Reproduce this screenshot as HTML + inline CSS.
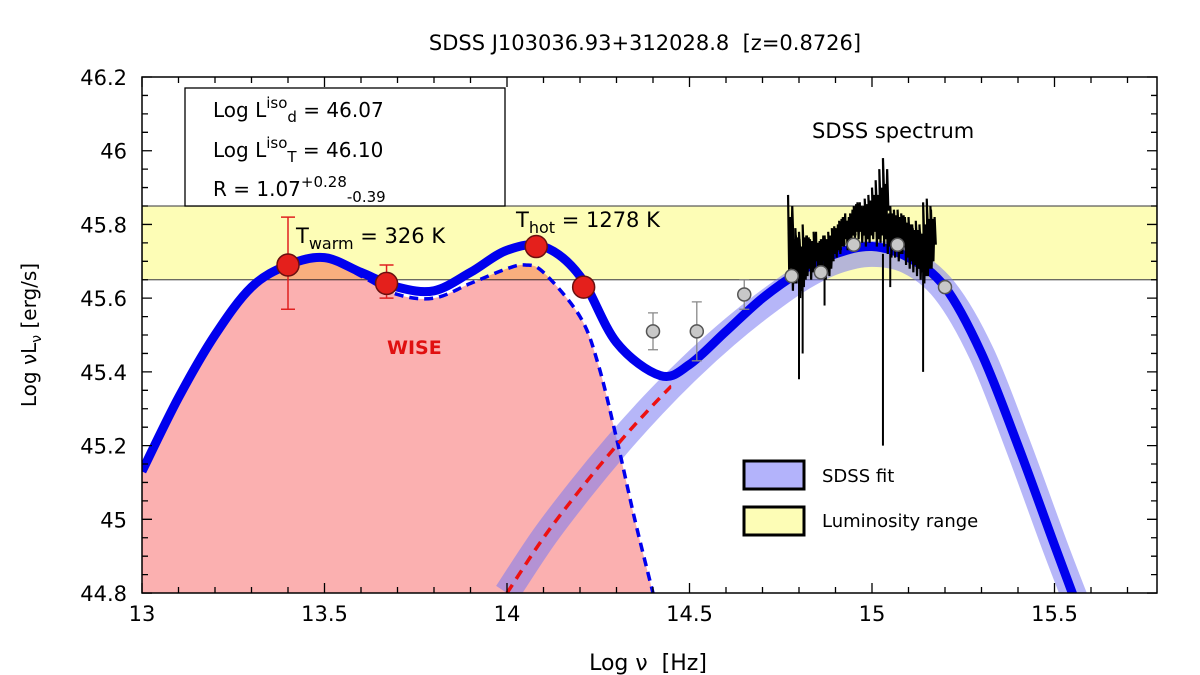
<!DOCTYPE html>
<html><head><meta charset="utf-8"><style>
body{margin:0;background:#fff;}
svg{display:block;font-family:"DejaVu Sans","Liberation Sans",sans-serif;}
</style></head><body>
<svg id="chart" width="1200" height="675" viewBox="0 0 1200 675">
<text x="645" y="50" font-size="21" text-anchor="middle" style="white-space:pre">SDSS J103036.93+312028.8  [z=0.8726]</text>
<g id="plot"></g>
</svg>
<script>
// ---- data ----
const totalNu=[13.0,13.1,13.2,13.3,13.4,13.5,13.6,13.7,13.8,13.9,14.0,14.1,14.2,14.3,14.42,14.5,14.6,14.7,14.8,14.9,15.0,15.1,15.2,15.3,15.4,15.5,15.56];
const totalL=[45.13,45.33,45.50,45.63,45.69,45.71,45.67,45.63,45.62,45.67,45.73,45.74,45.66,45.48,45.39,45.42,45.51,45.60,45.67,45.72,45.74,45.71,45.63,45.45,45.2,44.93,44.77];
const dustNu=[13.0,13.1,13.2,13.3,13.4,13.5,13.6,13.7,13.8,13.9,14.0,14.05,14.1,14.2,14.25,14.3,14.35,14.4];
const dustL=[45.13,45.33,45.50,45.63,45.69,45.71,45.66,45.61,45.60,45.64,45.68,45.69,45.67,45.55,45.42,45.22,45.0,44.8];
const diskNu=[14.0,14.1,14.2,14.3,14.4,14.5,14.6,14.7,14.8,14.9,15.0,15.1,15.2,15.3,15.4,15.5,15.57];
const diskL=[44.8,44.95,45.08,45.2,45.31,45.41,45.5,45.58,45.65,45.70,45.72,45.70,45.62,45.45,45.2,44.93,44.75];
const wiseNu=[13.4,13.67,14.08,14.21];
const wiseL=[45.69,45.64,45.74,45.63];
const wiseLo=[45.57,45.60,45.74,45.63];
const wiseHi=[45.82,45.69,45.74,45.63];
const photNu=[14.4,14.52,14.65,14.78,14.86,14.95,15.07,15.2];
const photL=[45.51,45.51,45.61,45.66,45.67,45.745,45.745,45.63];
const photLo=[45.46,45.43,45.57,45.66,45.67,45.745,45.745,45.63];
const photHi=[45.56,45.59,45.65,45.66,45.67,45.745,45.745,45.63];
const specNu=[14.77,14.78,14.79,14.80,14.81,14.82,14.83,14.84,14.85,14.86,14.87,14.88,14.89,14.90,14.91,14.92,14.93,14.94,14.95,14.96,14.97,14.98,14.99,15.00,15.01,15.02,15.03,15.04,15.05,15.06,15.07,15.08,15.09,15.10,15.11,15.12,15.13,15.14,15.15,15.16];
const specHi=[45.88,45.80,45.79,45.78,45.80,45.77,45.76,45.78,45.75,45.76,45.77,45.78,45.79,45.79,45.81,45.82,45.81,45.83,45.85,45.86,45.85,45.87,45.88,45.90,45.92,45.95,45.98,45.84,45.85,45.84,45.84,45.83,45.82,45.82,45.80,45.81,45.80,45.86,45.87,45.85];
const specLo=[45.66,45.62,45.64,45.60,45.63,45.66,45.65,45.68,45.66,45.68,45.65,45.66,45.70,45.71,45.72,45.74,45.73,45.75,45.76,45.76,45.75,45.74,45.75,45.76,45.74,45.75,45.74,45.72,45.71,45.71,45.70,45.72,45.69,45.68,45.67,45.66,45.65,45.64,45.66,45.68];
const spikeNu=[14.80,14.81,14.87,15.03,15.05,15.14];
const spikeL=[45.38,45.45,45.58,45.20,45.63,45.40];
const lumRange=[45.65,45.85];
const xTicks=[13,13.5,14,14.5,15,15.5];
const yTicks=[44.8,45,45.2,45.4,45.6,45.8,46,46.2];
const xTickLabels=["13","13.5","14","14.5","15","15.5"];
const yTickLabels=["44.8","45","45.2","45.4","45.6","45.8","46","46.2"];
// ---- scales ----
const X0=142,X1=1157,Y0=77,Y1=593;
const xs=v=>X0+(v-13)*365;
const ys=v=>Y0+(46.2-v)*368.6;
const NS='http://www.w3.org/2000/svg';
const plot=document.getElementById('plot');
function mk(tag,attrs,parent){const e=document.createElementNS(NS,tag);for(const k in attrs)e.setAttribute(k,attrs[k]);(parent||plot).appendChild(e);return e;}
function smooth(nu,L){const p=nu.map((n,i)=>[xs(n),ys(L[i])]);let d='M'+p[0][0]+','+p[0][1];
for(let i=0;i<p.length-1;i++){const a=p[i-1]||p[i],b=p[i],c=p[i+1],e=p[i+2]||c;
d+=' C'+(b[0]+(c[0]-a[0])/6)+','+(b[1]+(c[1]-a[1])/6)+' '+(c[0]-(e[0]-b[0])/6)+','+(c[1]-(e[1]-b[1])/6)+' '+c[0]+','+c[1];}return d;}
const defs=mk('defs',{});const cp=mk('clipPath',{id:'clip'},defs);mk('rect',{x:X0,y:Y0,width:X1-X0,height:Y1-Y0},cp);
const g=mk('g',{'clip-path':'url(#clip)'});
let e;
e=mk('rect',{x:X0,y:ys(lumRange[1]),width:X1-X0,height:ys(lumRange[0])-ys(lumRange[1]),fill:'#fdfdb6',stroke:'#555','stroke-width':1.2},g);

e=mk('path',{d:smooth(dustNu,dustL)+' L'+xs(dustNu[dustNu.length-1])+','+Y1+' L'+xs(dustNu[0])+','+Y1+' Z',fill:'#fbb0b0',style:'mix-blend-mode:multiply'},g);

e=mk('path',{d:smooth(diskNu,diskL),fill:'none',stroke:'#7a7af2','stroke-width':26,'stroke-opacity':0.55},g);

e=mk('path',{d:smooth(dustNu,dustL),fill:'none',stroke:'#0000ee','stroke-width':3.5,'stroke-dasharray':'9,6'},g);

e=mk('path',{d:smooth(totalNu,totalL),fill:'none',stroke:'#0000ee','stroke-width':9},g);

const cr=mk('clipPath',{id:'cr'},defs);mk('rect',{x:X0,y:ys(45.39)+6,width:xs(14.45)-X0,height:600},cr);
e=mk('path',{d:smooth(diskNu,diskL),fill:'none',stroke:'#ee1111','stroke-width':3.5,'stroke-dasharray':'10,7','clip-path':'url(#cr)'},g);

// spectrum as dense zigzag
let sp='';
specNu.forEach((n,i)=>{const x=xs(n);const m=(specHi[i]+specLo[i])/2;
sp+=(i?' L':'M')+x+','+ys(specHi[i])+' L'+(x+1.2)+','+ys(specLo[i])+' L'+(x+2.4)+','+ys(m+0.05)+' L'+(x+3)+','+ys(specLo[i]+0.02)+' L'+(x+4.2)+','+ys(specHi[i]-0.03)+' L'+(x+5.4)+','+ys(m-0.02);});
e=mk('path',{d:sp,fill:'none',stroke:'#000','stroke-width':2.2,'stroke-linejoin':'miter'},g);

spikeNu.forEach((n,i)=>{const s=mk('line',{x1:xs(n),x2:xs(n),y1:ys(45.72),y2:ys(spikeL[i]),stroke:'#000','stroke-width':2},g);
});
// photometry
photNu.forEach((n,i)=>{if(photHi[i]>photLo[i]){const b=mk('path',{d:'M'+xs(n)+','+ys(photLo[i])+' V'+ys(photHi[i])+' M'+(xs(n)-5)+','+ys(photLo[i])+' h10 M'+(xs(n)-5)+','+ys(photHi[i])+' h10',stroke:'#888','stroke-width':1.3,fill:'none'},g);
}
const c=mk('circle',{cx:xs(n),cy:ys(photL[i]),r:6.5,fill:'#c8c8c8',stroke:'#555','stroke-width':1.5},g);
});
wiseNu.forEach((n,i)=>{if(wiseHi[i]>wiseLo[i]){const b=mk('path',{d:'M'+xs(n)+','+ys(wiseLo[i])+' V'+ys(wiseHi[i])+' M'+(xs(n)-7)+','+ys(wiseLo[i])+' h14 M'+(xs(n)-7)+','+ys(wiseHi[i])+' h14',stroke:'#e02020','stroke-width':1.5,fill:'none'},g);
}
const c=mk('circle',{cx:xs(n),cy:ys(wiseL[i]),r:11,fill:'#e4201c',stroke:'#6a1010','stroke-width':1.5},g);
});
// frame + ticks
e=mk('rect',{x:X0,y:Y0,width:X1-X0,height:Y1-Y0,fill:'none',stroke:'#000','stroke-width':1.5});

let td='';
for(let k=0;k<=28;k++){const v=13+k*0.1;const x=xs(v);if(x>X1)break;const L=(k%5==0)?10:6;td+='M'+x+','+Y1+' v-'+L+' M'+x+','+Y0+' v'+L+' ';}
for(let k=0;k<=28;k++){const y=ys(44.8+k*0.05);const L=(k%4==0)?10:6;td+='M'+X0+','+y+' h'+L+' M'+X1+','+y+' h-'+L+' ';}
e=mk('path',{d:td,stroke:'#000','stroke-width':1.3,fill:'none'});
xTicks.forEach((v,i)=>{const t=mk('text',{x:xs(v),y:621,'font-size':21,'text-anchor':'middle'});t.textContent=xTickLabels[i];
});
yTicks.forEach((v,i)=>{const t=mk('text',{x:127,y:ys(v)+8,'font-size':21,'text-anchor':'end'});t.textContent=yTickLabels[i];
});
</script>
<svg style="position:absolute;left:0;top:0" width="1200" height="675">
<g font-family="DejaVu Sans, Liberation Sans, sans-serif">
<text x="648" y="670" font-size="22" text-anchor="middle" style="white-space:pre">Log ν  [Hz]</text>
<text transform="translate(36,335) rotate(-90)" font-size="20" text-anchor="middle">Log νL<tspan font-size="14" dy="5">ν</tspan><tspan dy="-5"> [erg/s]</tspan></text>
<rect x="185" y="88" width="320" height="118" fill="#fff" stroke="#000" stroke-width="1.3"/>
<text x="213" y="117" font-size="20">Log L<tspan font-size="15" dy="-9">iso</tspan><tspan font-size="15" dy="14">d</tspan><tspan dy="-5"> = 46.07</tspan></text>
<text x="213" y="157" font-size="20">Log L<tspan font-size="15" dy="-9">iso</tspan><tspan font-size="15" dy="14">T</tspan><tspan dy="-5"> = 46.10</tspan></text>
<text x="213" y="196" font-size="20">R = 1.07<tspan font-size="15" dy="-9">+0.28</tspan><tspan font-size="15" dy="15">-0.39</tspan></text>
<text x="296" y="243" font-size="21">T<tspan font-size="16" dy="6">warm</tspan><tspan dy="-6"> = 326 K</tspan></text>
<text x="516" y="227" font-size="21">T<tspan font-size="16" dy="6">hot</tspan><tspan dy="-6"> = 1278 K</tspan></text>
<text x="812" y="138" font-size="21">SDSS spectrum</text>
<text x="387" y="354" font-size="19" font-weight="bold" fill="#e01010">WISE</text>
<rect x="744" y="461" width="60" height="28" fill="#b3b3fb" stroke="#000" stroke-width="3"/>
<text x="822" y="482" font-size="18">SDSS fit</text>
<rect x="744" y="507" width="60" height="28" fill="#fdfdb6" stroke="#000" stroke-width="3"/>
<text x="822" y="527" font-size="18">Luminosity range</text>
</g></svg>
</body></html>
